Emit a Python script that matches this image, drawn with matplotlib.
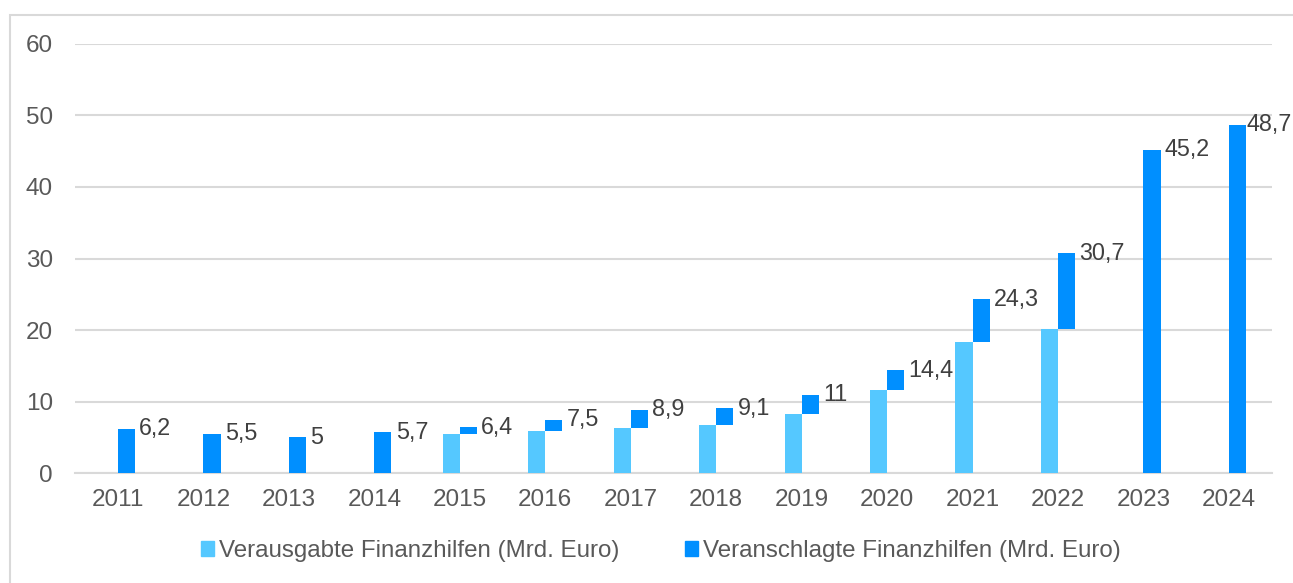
import matplotlib
matplotlib.use("Agg")
import matplotlib.pyplot as plt
import numpy as np
from matplotlib.patches import Rectangle, Patch

plt.rcParams["font.family"] = ["Liberation Sans", "DejaVu Sans"]

YEARS = ["2011", "2012", "2013", "2014", "2015", "2016", "2017",
         "2018", "2019", "2020", "2021", "2022", "2023", "2024"]

# Veranschlagte Finanzhilfen (Mrd. Euro)
BUDGET = [6.2, 5.5, 5.0, 5.7, 6.4, 7.5, 8.9, 9.1, 11.0, 14.4, 24.3, 30.7, 45.2, 48.7]
BUDGET_LABELS = ["6,2", "5,5", "5", "5,7", "6,4", "7,5", "8,9",
                 "9,1", "11", "14,4", "24,3", "30,7", "45,2", "48,7"]

# Verausgabte Finanzhilfen (Mrd. Euro), 0 = keine Angabe
SPENT = [0, 0, 0, 0, 5.5, 5.9, 6.3, 6.7, 8.3, 11.7, 18.4, 20.1, 0, 0]

LIGHT = "#55c8ff"
DARK = "#008fff"
GRID = "#d9d9d9"

fig = plt.figure(figsize=(12.93, 5.83), dpi=100)
ax = fig.add_axes([0.0582, 0.1882, 0.9253, 0.7368])

x = np.arange(len(YEARS))
w = 0.2
spent = np.array(SPENT)
budget = np.array(BUDGET)

ax.bar(x - w / 2, spent, width=w, color=LIGHT, zorder=3)
ax.bar(x + w / 2, budget - spent, bottom=spent, width=w, color=DARK, zorder=3)

for i, (xi, val, lab) in enumerate(zip(x, budget, BUDGET_LABELS)):
    # letzte Beschriftung dichter an den Balken, damit sie ins Bild passt
    dx = 0.5 if i == len(YEARS) - 1 else 3
    ax.annotate(lab, (xi + w, val), xytext=(dx, 0), textcoords="offset points",
                ha="left", va="center", fontsize=16.8, color="#404040", zorder=4,
                annotation_clip=False)

ax.set_xlim(-0.5, len(YEARS) - 0.5)
ax.set_ylim(0, 60)
ax.set_yticks(range(0, 61, 10))
ax.set_xticks(x)
ax.set_xticklabels(YEARS)
ax.tick_params(axis="both", length=0, labelsize=17.5, labelcolor="#595959")
ax.tick_params(axis="y", pad=16)
ax.tick_params(axis="x", pad=11)
ax.grid(axis="y", color=GRID, linewidth=1.5, zorder=0)
for s in ["top", "right", "left"]:
    ax.spines[s].set_visible(False)
ax.spines["bottom"].set_color(GRID)
ax.spines["bottom"].set_linewidth(1.5)

handles = [Patch(color=LIGHT), Patch(color=DARK)]
fig.legend(handles, ["Verausgabte Finanzhilfen (Mrd. Euro)",
                     "Veranschlagte Finanzhilfen (Mrd. Euro)"],
           loc="center", bbox_to_anchor=(0.511, 0.055), ncol=2, frameon=False,
           fontsize=17.4, labelcolor="#595959", handlelength=0.55, handleheight=0.55,
           handletextpad=0.2, columnspacing=2.7)

# heller Rahmen um das Diagramm
fig.patches.append(Rectangle((10 / 1293, -0.1), 1.1, 0.1 + (583 - 15) / 583,
                             transform=fig.transFigure, fill=False,
                             edgecolor=GRID, linewidth=1.5))

fig.savefig("out.png", dpi=100)
